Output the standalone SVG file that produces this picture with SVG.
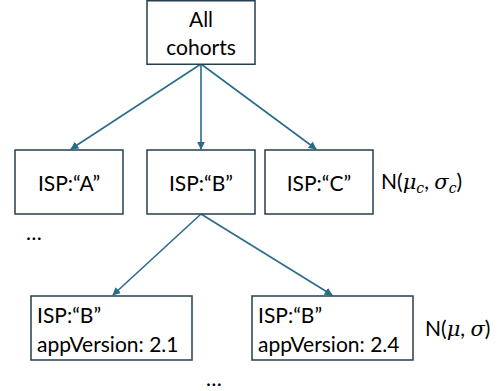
<svg xmlns="http://www.w3.org/2000/svg" width="500" height="391" viewBox="0 0 500 391">
<defs>
<style>
.box{fill:#fff;stroke:#243f4f;stroke-width:1.5}
.t{font-family:Lato,"Open Sans",sans-serif;font-size:21px;fill:#000}
.c{text-anchor:middle}
.edge{stroke:#2a6b8c;stroke-width:1.6;fill:none;marker-end:url(#ah)}
.m{font-family:"DejaVu Serif","Liberation Serif",serif;font-style:italic}
</style>
<marker id="ah" viewBox="0 0 10 10" refX="9" refY="5" markerWidth="5" markerHeight="5" orient="auto" markerUnits="strokeWidth">
<path d="M0,0 L10,5 L0,10 z" fill="#2a6b8c"/>
</marker>
</defs>
<rect width="500" height="391" fill="#fff"/>
<g id="connectors">
<line class="edge" x1="201" y1="64" x2="71" y2="149"/>
<line class="edge" x1="201" y1="64" x2="201" y2="149"/>
<line class="edge" x1="201" y1="64" x2="316" y2="149"/>
<line class="edge" x1="201" y1="214" x2="113" y2="295"/>
<line class="edge" x1="201" y1="214" x2="332" y2="295"/>
</g>
<g id="node-all">
<rect class="box" x="147" y="0.75" width="108" height="63.5"/>
<text class="t c" x="201" y="27">All</text>
<text class="t c" x="201" y="55">cohorts</text>
</g>
<g id="node-a">
<rect class="box" x="15" y="150" width="108" height="64"/>
<text class="t c" x="69" y="191">ISP:“A”</text>
</g>
<g id="node-b">
<rect class="box" x="147" y="150" width="108" height="64"/>
<text class="t c" x="201" y="191">ISP:“B”</text>
</g>
<g id="node-c">
<rect class="box" x="265" y="150" width="108" height="64"/>
<text class="t c" x="319" y="191">ISP:“C”</text>
</g>
<g id="label-nc">
<text class="t" x="381" y="189">N(<tspan class="m">μ</tspan><tspan class="m" font-size="14" dy="4">c</tspan><tspan dy="-4">, </tspan><tspan class="m">σ</tspan><tspan class="m" font-size="14" dy="4">c</tspan><tspan dy="-4">)</tspan></text>
</g>
<g id="dots-1">
<text class="t" x="26" y="240">…</text>
</g>
<g id="node-b21">
<rect class="box" x="31" y="296" width="161" height="64"/>
<text class="t" x="37" y="323">ISP:“B”</text>
<text class="t" x="37" y="352">appVersion: 2.1</text>
</g>
<g id="node-b24">
<rect class="box" x="252" y="296" width="161" height="64"/>
<text class="t" x="258" y="323">ISP:“B”</text>
<text class="t" x="258" y="352">appVersion: 2.4</text>
</g>
<g id="label-n">
<text class="t" x="425" y="336">N(<tspan class="m">μ</tspan>, <tspan class="m">σ</tspan>)</text>
</g>
<g id="dots-2">
<text class="t" x="206" y="386">…</text>
</g>
</svg>
